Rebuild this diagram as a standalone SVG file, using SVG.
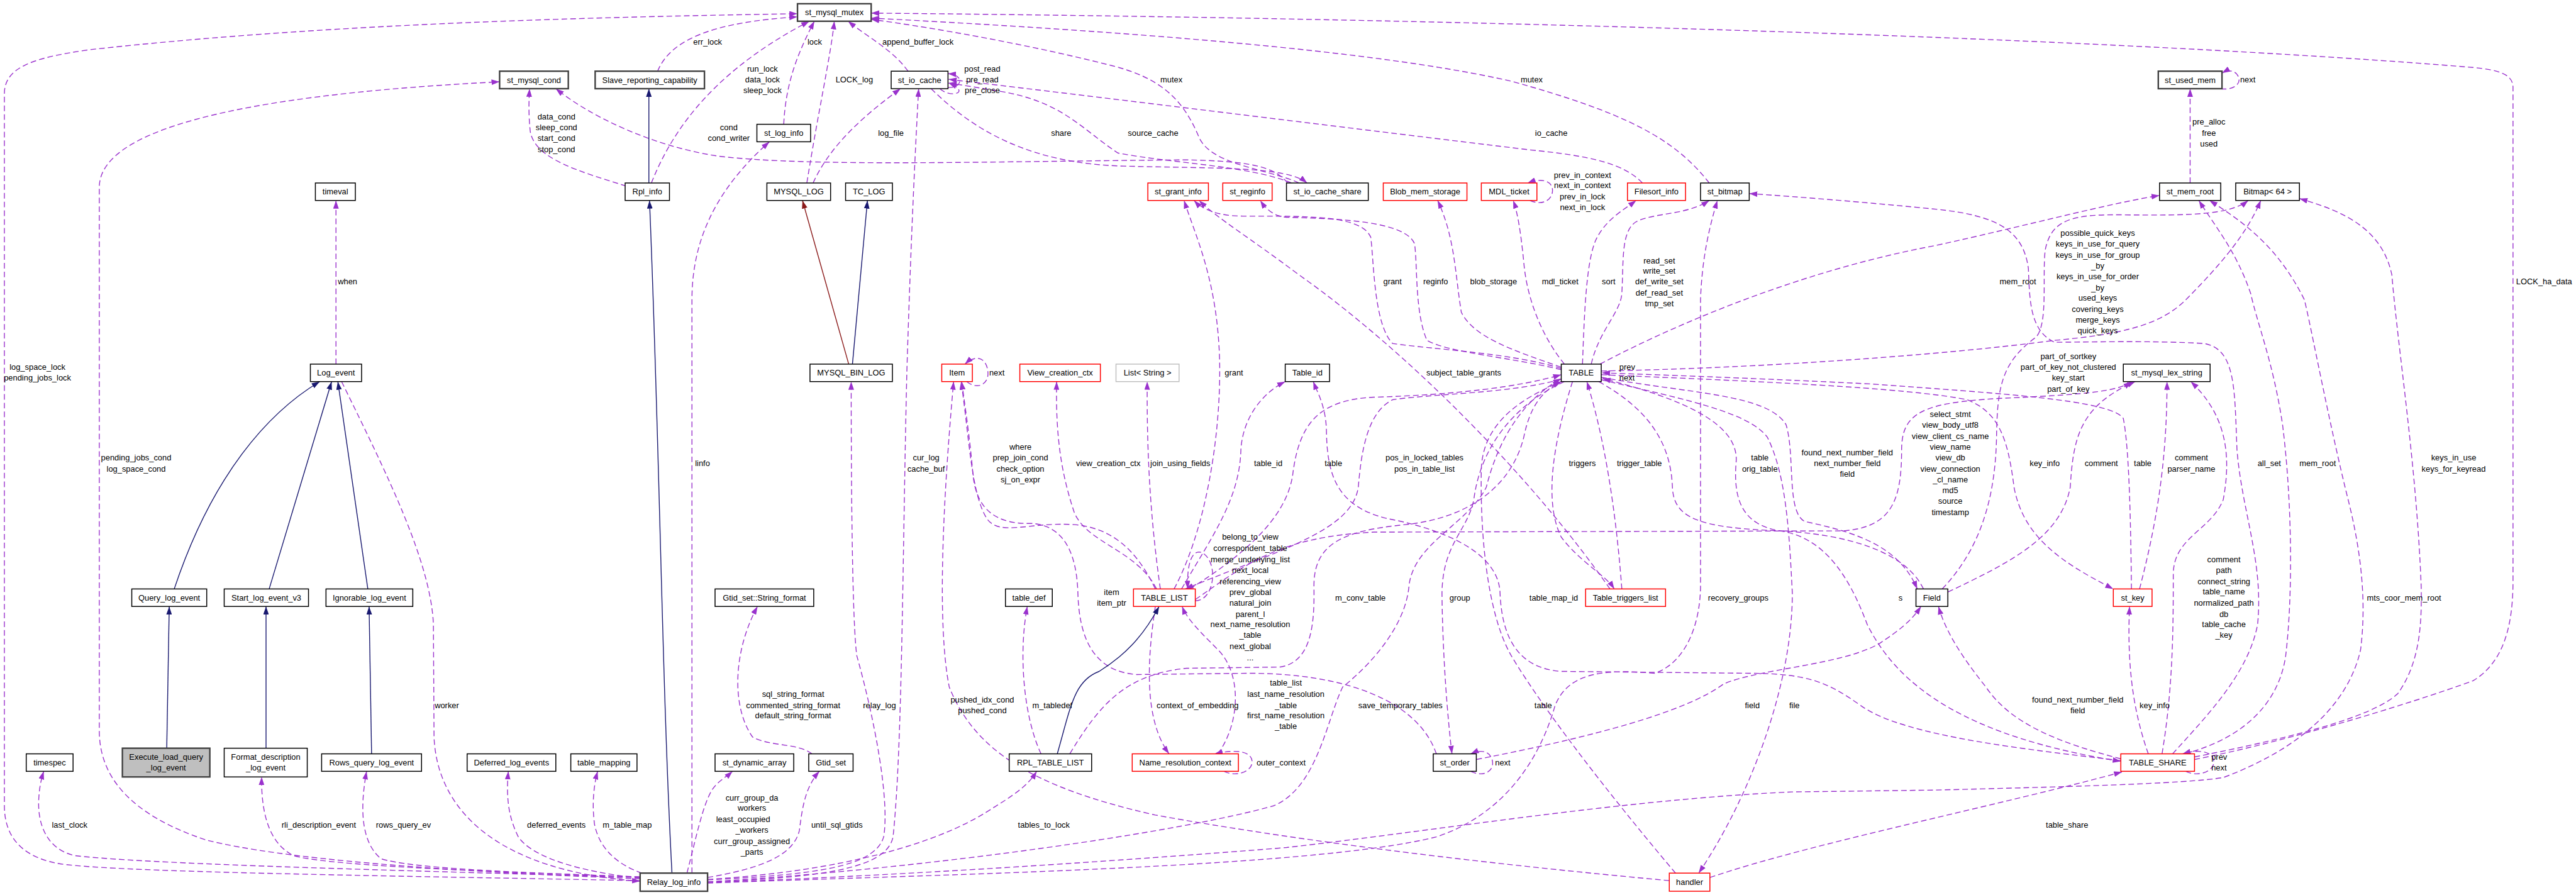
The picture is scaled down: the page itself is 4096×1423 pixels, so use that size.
<svg xmlns="http://www.w3.org/2000/svg" width="4096" height="1423" viewBox="0 0 4096 1423">
<style>
.n rect{fill:#fff;stroke:#000;stroke-width:1.5}
.n.r rect{stroke:#ff0000}
.n.g rect{stroke:#bfbfbf}
.n.k rect{stroke:#404040;stroke-width:2.4}
.n.f rect{fill:#bfbfbf;stroke:#404040;stroke-width:2.4}
text{font-family:'Liberation Sans',Arial,Helvetica,sans-serif;font-size:13px;fill:#000}
.n text,.m{text-anchor:middle}
.e{fill:none;stroke:#9a32cd;stroke-width:1.4;stroke-dasharray:9,5}
.i{fill:none;stroke:#191970;stroke-width:1.4}
.pv{fill:none;stroke:#8b1a1a;stroke-width:1.4}
</style>
<defs>
<marker id="ap" markerWidth="13" markerHeight="9" refX="13" refY="4.5" orient="auto" markerUnits="userSpaceOnUse"><path d="M0,0 L13,4.5 L0,9 z" fill="#9a32cd" stroke="none"/></marker>
<marker id="an" markerWidth="13" markerHeight="9" refX="13" refY="4.5" orient="auto" markerUnits="userSpaceOnUse"><path d="M0,0 L13,4.5 L0,9 z" fill="#191970" stroke="none"/></marker>
<marker id="ar" markerWidth="13" markerHeight="9" refX="13" refY="4.5" orient="auto" markerUnits="userSpaceOnUse"><path d="M0,0 L13,4.5 L0,9 z" fill="#8b1a1a" stroke="none"/></marker>
</defs>
<rect width="4096" height="1423" fill="#fff"/>
<g transform="scale(0.993)">
<g id="edges">
<g marker-end="url(#ap)" class="e">
<path d="M1025,1410 C600,1402 160,1396 90,1382 C30,1370 7,1335 7,1290 L7,150 C7,105 60,92 140,80 C500,40 900,28 1277,22"/>
<path d="M1025,1407 C700,1395 450,1375 330,1345 C210,1305 159,1245 159,1170 L159,300 C159,200 420,150 800,131"/>
<path d="M1003,298 C930,275 856,255 849,210 C846,180 847,160 848,142"/>
<path d="M1043,293 C1080,200 1150,110 1296,34"/>
<path d="M1053,114 C1075,60 1150,35 1277,27"/>
<path d="M1255,199 C1258,130 1280,80 1304,34"/>
<path d="M1292,293 C1310,180 1330,90 1336,34"/>
<path d="M1454,114 C1430,80 1390,60 1358,34"/>
<path d="M1302,293 C1330,230 1390,180 1442,142"/>
<path d="M1518,140 C1540,142 1546,120 1518,118"/>
<path d="M1505,142 C1522,158 1556,148 1519,133"/>
<path d="M1491,142 C1560,210 1650,262 1800,266 C1950,270 2060,266 2093,293"/>
<path d="M2068,293 C2000,265 1880,262 1790,245 C1730,205 1700,162 1600,146 C1570,141 1540,136 1519,133"/>
<path d="M2080,293 C2030,270 1940,265 1920,220 C1895,160 1860,125 1780,105 C1650,72 1500,45 1395,31"/>
<path d="M2630,293 C2600,262 2550,250 2450,240 C2200,210 1800,160 1519,127"/>
<path d="M2737,293 C2680,220 2600,180 2420,130 C2200,80 1800,50 1395,29"/>
<path d="M3514,1216 C3650,1190 3850,1130 3960,1090 C4010,1060 4024,1000 4024,930 L4024,140 C4024,118 4000,112 3960,108 C3400,62 2400,30 1395,21"/>
<path d="M2062,293 C2040,266 2000,258 1900,256 C1600,258 1300,268 1150,250 C1050,235 950,190 890,142"/>
<path d="M1108,1398 L1108,480 C1108,380 1150,300 1232,227"/>
<path d="M538,583 L538,321"/>
<path d="M547,611 C620,760 690,900 694,1000 L695,1180 C700,1300 800,1395 1025,1411"/>
<path d="M1025,1405 C700,1395 250,1385 120,1370 C75,1360 60,1320 62,1280 C63,1260 66,1248 70,1235"/>
<path d="M1025,1404 C750,1395 520,1385 470,1370 C430,1350 418,1300 419,1244"/>
<path d="M1025,1404 C800,1396 660,1390 610,1375 C580,1350 575,1300 587,1235"/>
<path d="M1025,1406 C920,1395 850,1370 830,1340 C815,1310 810,1280 814,1235"/>
<path d="M1028,1398 C990,1385 960,1360 952,1320 C948,1290 950,1260 957,1235"/>
<path d="M1100,1398 C1115,1340 1125,1290 1140,1265 C1150,1250 1162,1245 1173,1235"/>
<path d="M1133,1405 C1220,1390 1270,1370 1280,1330 C1285,1290 1290,1260 1312,1235"/>
<path d="M1300,1207 C1280,1190 1230,1195 1205,1180 C1170,1130 1175,1040 1213,971"/>
<path d="M1133,1409 C1300,1400 1400,1390 1415,1340 C1425,1280 1400,1150 1372,1050 C1365,1000 1363,800 1363,611"/>
<path d="M1133,1412 C1320,1405 1420,1390 1430,1340 C1445,1200 1445,900 1452,600 C1458,400 1465,250 1471,142"/>
<path d="M1133,1408 C1350,1395 1500,1350 1580,1300 C1620,1275 1645,1260 1660,1235"/>
<path d="M1667,1207 C1640,1150 1630,1050 1645,971"/>
<path d="M2673,1410 C2400,1385 2100,1350 1850,1305 C1650,1260 1560,1200 1520,1100 C1500,1000 1510,800 1527,611"/>
<path d="M1850,943 C1820,880 1780,845 1720,840 C1650,835 1600,860 1580,830 C1555,790 1552,700 1539,611"/>
<path d="M1852,943 C1820,880 1740,870 1720,820 C1700,760 1690,700 1692,611"/>
<path d="M1858,943 C1845,850 1836,750 1837,611"/>
<path d="M1880,943 C1930,850 1955,700 1953,580 C1950,450 1915,380 1896,321"/>
<path d="M1892,943 C1940,860 1985,800 1987,720 C1990,670 2020,630 2058,611"/>
<path d="M1914,962 C1945,962 1952,900 1925,885 C1908,878 1900,905 1902,943"/>
<path d="M1850,971 C1838,1050 1830,1150 1872,1207"/>
<path d="M1950,1207 C1985,1160 1990,1080 1950,1040 C1920,1010 1900,990 1893,971"/>
<path d="M1960,1235 C1980,1245 2005,1235 2005,1220 C2005,1205 1985,1198 1945,1207"/>
<path d="M1548,611 C1565,625 1583,615 1582,597 C1581,575 1565,565 1545,583"/>
<path d="M1905,943 C1990,890 2060,830 2070,760 C2080,680 2110,640 2200,636 C2330,632 2430,620 2500,600"/>
<path d="M2500,607 C2420,630 2300,630 2230,640 C2190,660 2180,720 2175,780 C2165,850 2050,880 1898,943"/>
<path d="M2500,590 C2420,565 2300,560 2230,550 C2200,520 2200,420 2195,380 C2180,345 2100,346 1990,346 C1950,346 1925,335 1912,321"/>
<path d="M2500,592 C2420,572 2320,565 2285,545 C2265,500 2270,420 2265,390 C2250,355 2150,350 2060,348 C2040,346 2028,336 2018,321"/>
<path d="M2500,588 C2420,560 2360,540 2340,500 C2330,440 2330,380 2302,321"/>
<path d="M2505,583 C2470,540 2445,480 2440,420 C2435,370 2430,340 2423,321"/>
<path d="M2450,321 C2470,330 2486,320 2486,305 C2486,290 2470,284 2446,293"/>
<path d="M2534,583 C2537,500 2540,420 2555,385 C2570,352 2600,336 2620,321"/>
<path d="M2548,583 C2560,530 2595,500 2597,470 C2600,420 2595,370 2620,355 C2650,340 2700,345 2737,321"/>
<path d="M2562,583 C2700,510 2900,430 3100,393 C3250,360 3380,325 3458,313"/>
<path d="M2564,594 C2800,590 3100,570 3290,545 C3400,535 3460,520 3500,480 C3560,420 3600,370 3620,321"/>
<path d="M3110,943 C3170,880 3195,800 3197,700 C3198,620 3205,580 3260,540 C3280,520 3270,440 3275,400 C3285,350 3320,343 3400,344 C3500,345 3570,345 3600,321"/>
<path d="M3119,948 C3220,900 3300,860 3315,780 C3320,700 3330,650 3419,611"/>
<path d="M2564,600 C2800,610 3050,620 3150,640 C3200,660 3215,700 3225,780 C3240,860 3300,900 3384,943"/>
<path d="M3413,943 C3412,850 3410,720 3400,670 C3380,640 3200,630 3000,615 C2800,605 2650,600 2565,597"/>
<path d="M3426,943 C3450,850 3470,750 3470,611"/>
<path d="M3462,1207 C3480,1100 3480,1000 3480,920 C3480,860 3540,850 3560,800 C3575,720 3560,660 3508,611"/>
<path d="M3479,1207 C3530,1150 3600,1080 3615,1000 C3625,900 3590,820 3582,720 C3578,620 3580,560 3530,550 C3450,545 3330,548 3290,548 C3250,530 3250,480 3248,430 C3240,370 3200,345 3100,335 C3000,325 2880,315 2801,310"/>
<path d="M3514,1212 C3650,1185 3800,1150 3840,1110 C3875,1060 3878,1000 3877,940 C3870,750 3840,560 3830,440 C3815,370 3760,340 3682,318"/>
<path d="M1133,1413 C1500,1400 1900,1370 2060,1357 C2300,1330 2600,1280 2869,1268 L3100,1265 C3300,1260 3500,1255 3560,1245 C3680,1200 3760,1130 3780,1040 C3790,960 3780,880 3760,800 C3730,680 3700,520 3690,480 C3650,400 3600,360 3538,321"/>
<path d="M3498,1207 C3600,1180 3650,1120 3660,1050 C3672,950 3670,800 3655,680 C3640,580 3615,520 3604,470 C3580,400 3545,360 3521,321"/>
<path d="M3507,293 L3507,142"/>
<path d="M3556,142 C3575,145 3588,135 3585,125 C3582,114 3570,110 3558,117"/>
<path d="M3396,1215 C3300,1190 3220,1160 3180,1100 C3140,1050 3115,1010 3104,971"/>
<path d="M3440,1207 C3420,1150 3405,1080 3410,971"/>
<path d="M3500,1235 C3520,1245 3545,1235 3545,1220 C3545,1205 3525,1198 3495,1207"/>
<path d="M2560,611 C2630,650 2675,700 2678,780 C2680,830 2720,845 2850,850 C2920,860 2960,920 2990,1000 C3040,1100 3150,1180 3396,1219"/>
<path d="M2564,604 C2700,630 2830,630 2860,680 C2875,730 2860,820 2890,835 C2960,850 3040,870 3070,943"/>
<path d="M3080,943 C3050,880 2950,855 2850,850 C2790,840 2775,800 2780,740 C2785,680 2700,640 2566,606"/>
<path d="M1914,960 C2000,900 2050,860 2200,852 L2950,850 C3030,845 3045,800 3045,720 C3045,660 3080,645 3200,638 C3330,632 3390,628 3413,611"/>
<path d="M2518,611 C2490,700 2470,800 2500,860 C2530,900 2570,920 2585,943"/>
<path d="M2597,943 C2590,850 2575,720 2541,611"/>
<path d="M2578,943 C2450,760 2250,560 2080,440 C2000,380 1950,350 1920,321"/>
<path d="M2505,611 C2420,650 2370,720 2360,800 C2350,850 2310,870 2309,950 C2310,1050 2318,1150 2325,1207"/>
<path d="M2355,1235 C2375,1245 2392,1235 2390,1220 C2388,1205 2375,1198 2355,1207"/>
<path d="M2364,1216 C2550,1180 2700,1140 2760,1095 C2820,1070 2950,1065 3010,1030 C3040,1010 3060,995 3076,971"/>
<path d="M2300,1207 C2270,1120 2150,1078 2000,1078 L1820,1080 C1750,1075 1728,1020 1726,950 C1724,880 1700,840 1650,838 C1580,840 1562,800 1558,760 C1553,700 1545,650 1540,611"/>
<path d="M2738,1405 C2900,1350 3200,1290 3398,1236"/>
<path d="M2683,1398 C2600,1300 2480,1150 2420,1050 C2380,980 2370,850 2372,750 C2375,680 2430,640 2500,611"/>
<path d="M2564,608 C2700,640 2800,660 2830,700 C2860,760 2865,850 2870,950 C2870,1100 2800,1280 2720,1398"/>
<path d="M3396,1218 C3250,1200 3050,1180 2980,1130 C2930,1095 2900,1078 2800,1078 L2500,1075 C2430,1070 2405,1020 2402,950 C2400,880 2300,845 2220,830 C2140,810 2125,760 2124,690 C2123,650 2110,630 2103,611"/>
<path d="M1713,1207 C1760,1130 1800,1080 1900,1070 L2050,1068 C2100,1060 2105,1000 2104,940 C2103,870 2150,850 2250,840 C2350,830 2420,780 2440,700 C2450,650 2470,625 2500,611"/>
<path d="M1133,1412 C1500,1390 1900,1330 2040,1290 C2110,1260 2125,1150 2150,1100 C2200,1060 2250,1000 2256,940 C2262,870 2350,840 2380,780 C2400,700 2440,640 2500,606"/>
<path d="M1133,1414 C1500,1400 2100,1390 2300,1340 C2420,1300 2470,1200 2490,1130 C2510,1080 2560,1070 2650,1078 C2700,1060 2722,1000 2723,940 L2723,480 C2725,420 2735,370 2750,321"/>
</g>
<g class="i" marker-end="url(#an)">
<path d="M1039,293 L1039,142"/>
<path d="M1076,1398 C1060,1100 1056,700 1040,321"/>
<path d="M1365,583 L1389,321"/>
<path d="M279,943 C340,760 430,660 512,611"/>
<path d="M431,943 L531,611"/>
<path d="M589,943 L541,611"/>
<path d="M267,1198 L271,971"/>
<path d="M426,1198 L426,971"/>
<path d="M595,1207 L591,971"/>
<path d="M1693,1207 C1715,1130 1720,1090 1760,1075 C1800,1050 1830,1020 1856,971"/>
</g>
<path class="pv" marker-end="url(#ar)" d="M1359,583 L1285,321"/>
<g id="edge-labels">
<text class="m"><tspan x="60" y="592.5">log_space_lock</tspan><tspan x="60" y="609.5">pending_jobs_lock</tspan></text>
<text class="m"><tspan x="218" y="737.5">pending_jobs_cond</tspan><tspan x="218" y="755.5">log_space_cond</tspan></text>
<text class="m"><tspan x="891" y="191.5">data_cond</tspan><tspan x="891" y="208.5">sleep_cond</tspan><tspan x="891" y="225.5">start_cond</tspan><tspan x="891" y="243.5">stop_cond</tspan></text>
<text x="541" y="455.5">when</text>
<text x="1110" y="71.5">err_lock</text>
<text class="m"><tspan x="1221" y="114.5">run_lock</tspan><tspan x="1221" y="131.5">data_lock</tspan><tspan x="1221" y="149.5">sleep_lock</tspan></text>
<text x="1293" y="71.5">lock</text>
<text x="1338" y="131.5">LOCK_log</text>
<text x="1413" y="71.5">append_buffer_lock</text>
<text class="m"><tspan x="1573" y="114.5">post_read</tspan><tspan x="1573" y="131.5">pre_read</tspan><tspan x="1573" y="149.5">pre_close</tspan></text>
<text x="1858" y="131.5">mutex</text>
<text class="m"><tspan x="1167" y="208.5">cond</tspan><tspan x="1167" y="225.5">cond_writer</tspan></text>
<text x="1406" y="217.5">log_file</text>
<text x="1683" y="217.5">share</text>
<text x="1806" y="217.5">source_cache</text>
<text x="2435" y="131.5">mutex</text>
<text x="2458" y="217.5">io_cache</text>
<text class="m"><tspan x="2534" y="284.5">prev_in_context</tspan><tspan x="2534" y="301.5">next_in_context</tspan><tspan x="2534" y="319.5">prev_in_lock</tspan><tspan x="2534" y="336.5">next_in_lock</tspan></text>
<text x="2215" y="455.5">grant</text>
<text x="2279" y="455.5">reginfo</text>
<text x="2354" y="455.5">blob_storage</text>
<text x="2469" y="455.5">mdl_ticket</text>
<text x="2565" y="455.5">sort</text>
<text class="m"><tspan x="2657" y="421.5">read_set</tspan><tspan x="2657" y="438.5">write_set</tspan><tspan x="2657" y="455.5">def_write_set</tspan><tspan x="2657" y="473.5">def_read_set</tspan><tspan x="2657" y="490.5">tmp_set</tspan></text>
<text x="3587" y="131.5">next</text>
<text class="m"><tspan x="3537" y="199.5">pre_alloc</tspan><tspan x="3537" y="217.5">free</tspan><tspan x="3537" y="234.5">used</tspan></text>
<text class="m"><tspan x="3359" y="377.5">possible_quick_keys</tspan><tspan x="3359" y="395">keys_in_use_for_query</tspan><tspan x="3359" y="412.5">keys_in_use_for_group</tspan><tspan x="3359" y="430">_by</tspan><tspan x="3359" y="447.5">keys_in_use_for_order</tspan><tspan x="3359" y="465">_by</tspan><tspan x="3359" y="481.5">used_keys</tspan><tspan x="3359" y="499.5">covering_keys</tspan><tspan x="3359" y="516.5">merge_keys</tspan><tspan x="3359" y="533.5">quick_keys</tspan></text>
<text x="3202" y="455.5">mem_root</text>
<text x="4029" y="455.5">LOCK_ha_data</text>
<text x="696" y="1133.5">worker</text>
<text x="83" y="1325.5">last_clock</text>
<text x="451" y="1325.5">rli_description_event</text>
<text x="602" y="1325.5">rows_query_ev</text>
<text x="844" y="1325.5">deferred_events</text>
<text x="965" y="1325.5">m_table_map</text>
<text x="1113" y="746.5">linfo</text>
<text x="1584" y="601.5">next</text>
<text class="m"><tspan x="1483" y="737.5">cur_log</tspan><tspan x="1483" y="755.5">cache_buf</tspan></text>
<text class="m"><tspan x="1634" y="720.5">where</tspan><tspan x="1634" y="737.5">prep_join_cond</tspan><tspan x="1634" y="755.5">check_option</tspan><tspan x="1634" y="772.5">sj_on_expr</tspan></text>
<text x="1723" y="746.5">view_creation_ctx</text>
<text x="1842" y="746.5">join_using_fields</text>
<text x="1961" y="601.5">grant</text>
<text x="2008" y="746.5">table_id</text>
<text class="m"><tspan x="2002" y="864.5">belong_to_view</tspan><tspan x="2002" y="882.5">correspondent_table</tspan><tspan x="2002" y="900.5">merge_underlying_list</tspan><tspan x="2002" y="917.5">next_local</tspan><tspan x="2002" y="935.5">referencing_view</tspan><tspan x="2002" y="952.5">prev_global</tspan><tspan x="2002" y="969.5">natural_join</tspan><tspan x="2002" y="987.5">parent_l</tspan><tspan x="2002" y="1004.5">next_name_resolution</tspan><tspan x="2002" y="1021.5">_table</tspan><tspan x="2002" y="1039.5">next_global</tspan><tspan x="2002" y="1057.5">...</tspan></text>
<text x="2284" y="601.5">subject_table_grants</text>
<text><tspan x="2593" y="592.5">prev</tspan><tspan x="2593" y="609.5">next</tspan></text>
<text x="2121" y="746.5">table</text>
<text class="m"><tspan x="2281" y="737.5">pos_in_locked_tables</tspan><tspan x="2281" y="755.5">pos_in_table_list</tspan></text>
<text x="2512" y="746.5">triggers</text>
<text x="2589" y="746.5">trigger_table</text>
<text class="m"><tspan x="2818" y="737.5">table</tspan><tspan x="2818" y="755.5">orig_table</tspan></text>
<text class="m"><tspan x="2958" y="729.5">found_next_number_field</tspan><tspan x="2958" y="746.5">next_number_field</tspan><tspan x="2958" y="763.5">field</tspan></text>
<text class="m"><tspan x="3123" y="667.5">select_stmt</tspan><tspan x="3123" y="685">view_body_utf8</tspan><tspan x="3123" y="703">view_client_cs_name</tspan><tspan x="3123" y="720.5">view_name</tspan><tspan x="3123" y="737.5">view_db</tspan><tspan x="3123" y="755">view_connection</tspan><tspan x="3123" y="772.5">_cl_name</tspan><tspan x="3123" y="789.5">md5</tspan><tspan x="3123" y="807">source</tspan><tspan x="3123" y="824.5">timestamp</tspan></text>
<text class="m"><tspan x="3312" y="575.5">part_of_sortkey</tspan><tspan x="3312" y="592.5">part_of_key_not_clustered</tspan><tspan x="3312" y="609.5">key_start</tspan><tspan x="3312" y="627.5">part_of_key</tspan></text>
<text x="3250" y="746.5">key_info</text>
<text x="3338" y="746.5">comment</text>
<text x="3417" y="746.5">table</text>
<text class="m"><tspan x="3509" y="737.5">comment</tspan><tspan x="3509" y="755.5">parser_name</tspan></text>
<text x="3615" y="746.5">all_set</text>
<text x="3682" y="746.5">mem_root</text>
<text class="m"><tspan x="3929" y="737.5">keys_in_use</tspan><tspan x="3929" y="755.5">keys_for_keyread</tspan></text>
<text class="m"><tspan x="3561" y="900.5">comment</tspan><tspan x="3561" y="917.5">path</tspan><tspan x="3561" y="935.5">connect_string</tspan><tspan x="3561" y="952">table_name</tspan><tspan x="3561" y="969.5">normalized_path</tspan><tspan x="3561" y="987.5">db</tspan><tspan x="3561" y="1004.5">table_cache</tspan><tspan x="3561" y="1021.5">_key</tspan></text>
<text class="m"><tspan x="1780" y="952.5">item</tspan><tspan x="1780" y="969.5">item_ptr</tspan></text>
<text class="m"><tspan x="1270" y="1115.5">sql_string_format</tspan><tspan x="1270" y="1133.5">commented_string_format</tspan><tspan x="1270" y="1150.5">default_string_format</tspan></text>
<text x="1382" y="1133.5">relay_log</text>
<text class="m"><tspan x="1573" y="1124.5">pushed_idx_cond</tspan><tspan x="1573" y="1141.5">pushed_cond</tspan></text>
<text x="1653" y="1133.5">m_tabledef</text>
<text x="1852" y="1133.5">context_of_embedding</text>
<text class="m"><tspan x="2059" y="1097.5">table_list</tspan><tspan x="2059" y="1115.5">last_name_resolution</tspan><tspan x="2059" y="1133.5">_table</tspan><tspan x="2059" y="1150.5">first_name_resolution</tspan><tspan x="2059" y="1167.5">_table</tspan></text>
<text x="2012" y="1225.5">outer_context</text>
<text class="m"><tspan x="1204" y="1281.5">curr_group_da</tspan><tspan x="1204" y="1298.5">workers</tspan><tspan x="1190" y="1316.5">least_occupied</tspan><tspan x="1204" y="1333.5">_workers</tspan><tspan x="1204" y="1351.5">curr_group_assigned</tspan><tspan x="1204" y="1368.5">_parts</tspan></text>
<text x="1299" y="1325.5">until_sql_gtids</text>
<text x="1630" y="1325.5">tables_to_lock</text>
<text x="2138" y="961.5">m_conv_table</text>
<text x="2321" y="961.5">group</text>
<text x="2449" y="961.5">table_map_id</text>
<text x="2735" y="961.5">recovery_groups</text>
<text x="3040" y="961.5">s</text>
<text x="2175" y="1133.5">save_temporary_tables</text>
<text x="2457" y="1133.5">table</text>
<text x="2794" y="1133.5">field</text>
<text x="2865" y="1133.5">file</text>
<text x="2394" y="1225.5">next</text>
<text x="3790" y="961.5">mts_coor_mem_root</text>
<text class="m"><tspan x="3327" y="1124.5">found_next_number_field</tspan><tspan x="3327" y="1141.5">field</tspan></text>
<text x="3426" y="1133.5">key_info</text>
<text><tspan x="3541" y="1216.5">prev</tspan><tspan x="3541" y="1233.5">next</tspan></text>
<text x="3276" y="1325.5">table_share</text>
</g>
</g>
<g id="nodes">
<g id="n-st_mysql_mutex" class="n k"><rect x="1277" y="6" width="118" height="28"/><text x="1336" y="24.5">st_mysql_mutex</text></g>
<g id="n-st_mysql_cond" class="n k"><rect x="800" y="114" width="110" height="28"/><text x="855" y="132.5">st_mysql_cond</text></g>
<g id="n-Slave_reporting_capability" class="n k"><rect x="953" y="114" width="175" height="28"/><text x="1040.5" y="132.5">Slave_reporting_capability</text></g>
<g id="n-st_io_cache" class="n"><rect x="1427" y="114" width="91" height="28"/><text x="1472.5" y="132.5">st_io_cache</text></g>
<g id="n-st_used_mem" class="n k"><rect x="3456" y="114" width="102" height="28"/><text x="3507" y="132.5">st_used_mem</text></g>
<g id="n-st_log_info" class="n"><rect x="1212" y="199" width="86" height="28"/><text x="1255" y="217.5">st_log_info</text></g>
<g id="n-timeval" class="n"><rect x="505" y="293" width="64" height="28"/><text x="537" y="311.5">timeval</text></g>
<g id="n-Rpl_info" class="n"><rect x="1001" y="293" width="71" height="28"/><text x="1036.5" y="311.5">Rpl_info</text></g>
<g id="n-MYSQL_LOG" class="n"><rect x="1228" y="293" width="102" height="28"/><text x="1279" y="311.5">MYSQL_LOG</text></g>
<g id="n-TC_LOG" class="n"><rect x="1354" y="293" width="75" height="28"/><text x="1391.5" y="311.5">TC_LOG</text></g>
<g id="n-st_grant_info" class="n r"><rect x="1838" y="293" width="97" height="28"/><text x="1886.5" y="311.5">st_grant_info</text></g>
<g id="n-st_reginfo" class="n r"><rect x="1958" y="293" width="79" height="28"/><text x="1997.5" y="311.5">st_reginfo</text></g>
<g id="n-st_io_cache_share" class="n"><rect x="2060" y="293" width="131" height="28"/><text x="2125.5" y="311.5">st_io_cache_share</text></g>
<g id="n-Blob_mem_storage" class="n r"><rect x="2215" y="293" width="134" height="28"/><text x="2282" y="311.5">Blob_mem_storage</text></g>
<g id="n-MDL_ticket" class="n r"><rect x="2372" y="293" width="89" height="28"/><text x="2416.5" y="311.5">MDL_ticket</text></g>
<g id="n-Filesort_info" class="n r"><rect x="2606" y="293" width="93" height="28"/><text x="2652.5" y="311.5">Filesort_info</text></g>
<g id="n-st_bitmap" class="n"><rect x="2723" y="293" width="78" height="28"/><text x="2762" y="311.5">st_bitmap</text></g>
<g id="n-st_mem_root" class="n"><rect x="3458" y="293" width="98" height="28"/><text x="3507" y="311.5">st_mem_root</text></g>
<g id="n-Bitmap64" class="n"><rect x="3580" y="293" width="102" height="28"/><text x="3631" y="311.5">Bitmap&lt; 64 &gt;</text></g>
<g id="n-Log_event" class="n"><rect x="497" y="583" width="82" height="28"/><text x="538" y="601.5">Log_event</text></g>
<g id="n-MYSQL_BIN_LOG" class="n"><rect x="1297" y="583" width="132" height="28"/><text x="1363" y="601.5">MYSQL_BIN_LOG</text></g>
<g id="n-Item" class="n r"><rect x="1508" y="583" width="49" height="28"/><text x="1532.5" y="601.5">Item</text></g>
<g id="n-View_creation_ctx" class="n r"><rect x="1633" y="583" width="129" height="28"/><text x="1697.5" y="601.5">View_creation_ctx</text></g>
<g id="n-List_String" class="n g"><rect x="1787" y="583" width="101" height="28"/><text x="1837.5" y="601.5">List&lt; String &gt;</text></g>
<g id="n-Table_id" class="n"><rect x="2058" y="583" width="71" height="28"/><text x="2093.5" y="601.5">Table_id</text></g>
<g id="n-TABLE" class="n"><rect x="2500" y="583" width="64" height="28"/><text x="2532" y="601.5">TABLE</text></g>
<g id="n-st_mysql_lex_string" class="n"><rect x="3400" y="583" width="139" height="28"/><text x="3469.5" y="601.5">st_mysql_lex_string</text></g>
<g id="n-Query_log_event" class="n"><rect x="211" y="943" width="120" height="28"/><text x="271" y="961.5">Query_log_event</text></g>
<g id="n-Start_log_event_v3" class="n"><rect x="359" y="943" width="135" height="28"/><text x="426.5" y="961.5">Start_log_event_v3</text></g>
<g id="n-Ignorable_log_event" class="n"><rect x="522" y="943" width="139" height="28"/><text x="591.5" y="961.5">Ignorable_log_event</text></g>
<g id="n-Gtid_set_String_format" class="n"><rect x="1145" y="943" width="158" height="28"/><text x="1224" y="961.5">Gtid_set::String_format</text></g>
<g id="n-table_def" class="n"><rect x="1610" y="943" width="75" height="28"/><text x="1647.5" y="961.5">table_def</text></g>
<g id="n-TABLE_LIST" class="n r"><rect x="1815" y="943" width="99" height="28"/><text x="1864.5" y="961.5">TABLE_LIST</text></g>
<g id="n-Table_triggers_list" class="n r"><rect x="2539" y="943" width="128" height="28"/><text x="2603" y="961.5">Table_triggers_list</text></g>
<g id="n-Field" class="n"><rect x="3068" y="943" width="51" height="28"/><text x="3093.5" y="961.5">Field</text></g>
<g id="n-st_key" class="n r"><rect x="3384" y="943" width="62" height="28"/><text x="3415" y="961.5">st_key</text></g>
<g id="n-timespec" class="n"><rect x="42" y="1207" width="75" height="28"/><text x="79.5" y="1225.5">timespec</text></g>
<g id="n-Execute_load_query_log_event" class="n f"><rect x="196" y="1198" width="140" height="46"/><text x="266" y="1216.5">Execute_load_query</text><text x="266" y="1233.5">_log_event</text></g>
<g id="n-Format_description_log_event" class="n"><rect x="359" y="1198" width="133" height="46"/><text x="425.5" y="1216.5">Format_description</text><text x="425.5" y="1233.5">_log_event</text></g>
<g id="n-Rows_query_log_event" class="n"><rect x="515" y="1207" width="160" height="28"/><text x="595" y="1225.5">Rows_query_log_event</text></g>
<g id="n-Deferred_log_events" class="n"><rect x="748" y="1207" width="142" height="28"/><text x="819" y="1225.5">Deferred_log_events</text></g>
<g id="n-table_mapping" class="n"><rect x="914" y="1207" width="106" height="28"/><text x="967" y="1225.5">table_mapping</text></g>
<g id="n-st_dynamic_array" class="n"><rect x="1145" y="1207" width="126" height="28"/><text x="1208" y="1225.5">st_dynamic_array</text></g>
<g id="n-Gtid_set" class="n"><rect x="1295" y="1207" width="71" height="28"/><text x="1330.5" y="1225.5">Gtid_set</text></g>
<g id="n-RPL_TABLE_LIST" class="n"><rect x="1616" y="1207" width="132" height="28"/><text x="1682" y="1225.5">RPL_TABLE_LIST</text></g>
<g id="n-Name_resolution_context" class="n r"><rect x="1813" y="1207" width="170" height="28"/><text x="1898" y="1225.5">Name_resolution_context</text></g>
<g id="n-st_order" class="n"><rect x="2295" y="1207" width="69" height="28"/><text x="2329.5" y="1225.5">st_order</text></g>
<g id="n-TABLE_SHARE" class="n r"><rect x="3396" y="1207" width="118" height="28"/><text x="3455" y="1225.5">TABLE_SHARE</text></g>
<g id="n-Relay_log_info" class="n k"><rect x="1025" y="1398" width="108" height="29"/><text x="1079" y="1417">Relay_log_info</text></g>
<g id="n-handler" class="n r"><rect x="2673" y="1398" width="65" height="29"/><text x="2705.5" y="1417">handler</text></g>
</g>
</g>
</svg>
